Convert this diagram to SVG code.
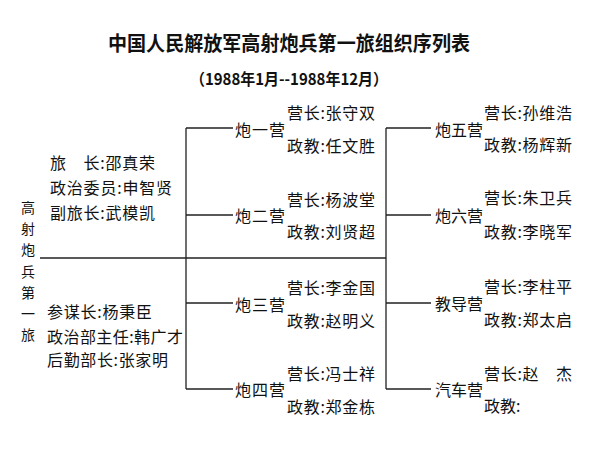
<svg xmlns="http://www.w3.org/2000/svg" width="600" height="451" viewBox="0 0 600 451">
<style>
text{font-family:"Noto Sans CJK SC","Noto Sans CJK TC",sans-serif;fill:#111;}
.t{font-size:20px;font-weight:bold;}
.s{font-size:16px;font-weight:bold;}
.n{font-size:16px;}
.v{font-size:14px;text-anchor:middle;}
.ln{stroke:#222;stroke-width:1.3;fill:none;}
</style>
<rect width="600" height="451" fill="#fff"/>
<g id="title">
<text class="t" x="108" y="51" textLength="362" lengthAdjust="spacingAndGlyphs">中国人民解放军高射炮兵第一旅组织序列表</text>
<text class="s" x="190" y="85" textLength="198" lengthAdjust="spacingAndGlyphs">（1988年1月--1988年12月）</text>
</g>
<g id="connectors">
<path class="ln" d="M40,258H386"/>
<path class="ln" d="M186,128V389M186,128H233M186,215H233M186,303H233M186,389H233"/>
<path class="ln" d="M386,128V389M386,128H431M386,215H431M386,303H431M386,389H431"/>
</g>
<g id="brigade">
<text class="v" x="28" y="213">高</text>
<text class="v" x="28" y="234">射</text>
<text class="v" x="28" y="255">炮</text>
<text class="v" x="28" y="277">兵</text>
<text class="v" x="28" y="298">第</text>
<text class="v" x="28" y="319">一</text>
<text class="v" x="28" y="340">旅</text>
</g>
<g id="brigade-leaders">
<text class="n" x="50" y="169" textLength="105" lengthAdjust="spacing">旅　长:邵真荣</text>
<text class="n" x="50" y="194" textLength="122" lengthAdjust="spacing">政治委员:申智贤</text>
<text class="n" x="50" y="219" textLength="105" lengthAdjust="spacing">副旅长:武模凯</text>
<text class="n" x="47" y="318" textLength="105" lengthAdjust="spacing">参谋长:杨秉臣</text>
<text class="n" x="47" y="343" textLength="136" lengthAdjust="spacing">政治部主任:韩广才</text>
<text class="n" x="47" y="366" textLength="121" lengthAdjust="spacing">后勤部长:张家明</text>
</g>
<g id="bn1">
<text class="n" x="235" y="136" textLength="50">炮一营</text>
<text class="n" x="287" y="119" textLength="88" lengthAdjust="spacing">营长:张守双</text>
<text class="n" x="287" y="152" textLength="88" lengthAdjust="spacing">政教:任文胜</text>
</g>
<g id="bn2">
<text class="n" x="235" y="222" textLength="50">炮二营</text>
<text class="n" x="287" y="206" textLength="88" lengthAdjust="spacing">营长:杨波堂</text>
<text class="n" x="287" y="238" textLength="88" lengthAdjust="spacing">政教:刘贤超</text>
</g>
<g id="bn3">
<text class="n" x="235" y="311" textLength="50">炮三营</text>
<text class="n" x="287" y="294" textLength="88" lengthAdjust="spacing">营长:李金国</text>
<text class="n" x="287" y="327" textLength="88" lengthAdjust="spacing">政教:赵明义</text>
</g>
<g id="bn4">
<text class="n" x="235" y="396" textLength="50">炮四营</text>
<text class="n" x="287" y="380" textLength="88" lengthAdjust="spacing">营长:冯士祥</text>
<text class="n" x="287" y="413" textLength="88" lengthAdjust="spacing">政教:郑金栋</text>
</g>
<g id="bn5">
<text class="n" x="435" y="136" textLength="48">炮五营</text>
<text class="n" x="484" y="119" textLength="88" lengthAdjust="spacing">营长:孙维浩</text>
<text class="n" x="484" y="151" textLength="88" lengthAdjust="spacing">政教:杨辉新</text>
</g>
<g id="bn6">
<text class="n" x="435" y="222" textLength="48">炮六营</text>
<text class="n" x="484" y="204" textLength="88" lengthAdjust="spacing">营长:朱卫兵</text>
<text class="n" x="484" y="238" textLength="88" lengthAdjust="spacing">政教:李晓军</text>
</g>
<g id="training-bn">
<text class="n" x="435" y="310" textLength="48">教导营</text>
<text class="n" x="484" y="293" textLength="88" lengthAdjust="spacing">营长:李柱平</text>
<text class="n" x="484" y="326" textLength="88" lengthAdjust="spacing">政教:郑太启</text>
</g>
<g id="motor-bn">
<text class="n" x="435" y="396" textLength="48">汽车营</text>
<text class="n" x="484" y="380" textLength="88" lengthAdjust="spacing">营长:赵　杰</text>
<text class="n" x="484" y="412">政教:</text>
</g>
</svg>
